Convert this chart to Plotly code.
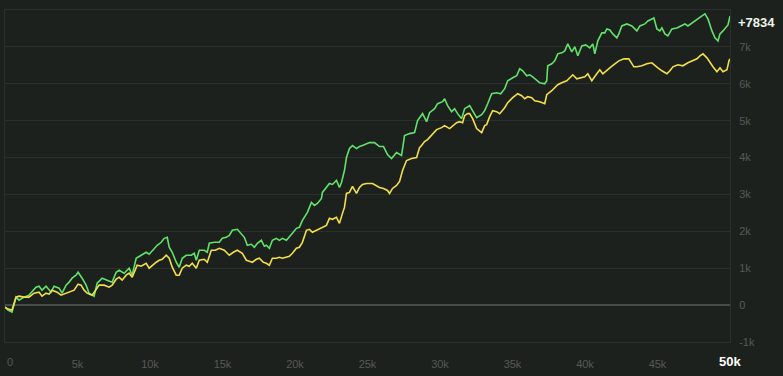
import plotly.graph_objects as go

# ---- data ----
green_x = [0, 207, 483, 760, 967, 1312, 1657, 1865, 2141, 2348, 2555, 2831, 3177, 3384, 3729, 3936,
           4213, 4420, 4627, 4903, 5041, 5318, 5594, 5801, 6146, 6354, 6699, 7044, 7389, 7666, 7873,
           8218, 8563, 8771, 9047, 9392, 9737, 9945, 10290, 10497, 10773, 10980, 11188, 11326, 11533,
           11809, 12016, 12224, 12500, 12845, 13052, 13190, 13398, 13743, 13950, 14088, 14434, 14779,
           14986, 15262, 15469, 15677, 16022, 16298, 16505, 16713, 16989, 17196, 17403, 17679, 17887,
           18025, 18232, 18439, 18715, 18922, 19130, 19406, 19613, 19820, 20096, 20304, 20511, 20718,
           20856, 21132, 21340, 21547, 21823, 21892, 22168, 22375, 22583, 22859, 23066, 23204, 23411,
           23549, 23757, 23964, 24240, 24447, 24654, 24931, 25138, 25483, 25828, 26105, 26381, 26657,
           26795, 27002, 27348, 27555, 27900, 28246, 28453, 28798, 29074, 29281, 29627, 29834, 30179,
           30317, 30525, 30801, 31008, 31215, 31491, 31698, 32044, 32251, 32527, 32873, 33080, 33287,
           33563, 33908, 34185, 34461, 34668, 35013, 35290, 35497, 35704, 35980, 36187, 36395, 36671,
           36878, 37223, 37361, 37431, 37707, 37914, 38121, 38397, 38605, 38812, 39088, 39295, 39502,
           39779, 40055, 40331, 40538, 40676, 40884, 41160, 41367, 41505, 41712, 41919, 42196, 42333,
           42540, 42886, 43231, 43577, 43784, 44129, 44336, 44612, 44750, 44958, 45165, 45303, 45510,
           45717, 45993, 46338, 46683, 46890, 47099, 47375, 47720, 48066, 48273, 48480, 48756, 48963,
           49170, 49308, 49515, 49722, 49860, 50000]
green_y = [-54, -135, -189, 216, 135, 216, 270, 351, 487, 514, 405, 514, 351, 514, 460, 324,
           541, 622, 730, 811, 892, 730, 541, 324, 243, 595, 730, 676, 622, 892, 946,
           865, 1000, 811, 1270, 1352, 1433, 1379, 1541, 1622, 1703, 1811, 1838, 1568, 1433,
           1162, 1027, 1270, 1352, 1352, 1406, 1216, 1487, 1487, 1433, 1676, 1703, 1703,
           1811, 1838, 1892, 2027, 2054, 1946, 1838, 1622, 1649, 1568, 1676, 1757, 1595,
           1622, 1541, 1757, 1811, 1757, 1811, 1757, 1838, 1946, 2081, 2108, 2298, 2433,
           2514, 2784, 2703, 2757, 2892, 3054, 3190, 3298, 3271, 3379, 3190, 3325, 3649,
           4000, 4244, 4325, 4244, 4298, 4325, 4379, 4406, 4406, 4298, 4298, 4082, 3973,
           4027, 4136, 4055, 4595, 4649, 4676, 5001, 5190, 4974, 5217, 5325, 5460, 5514,
           5595, 5406, 5244, 5325, 5190, 5055, 5325, 5406, 5271, 5082, 5163, 5271, 5460,
           5730, 5757, 5730, 5866, 6082, 6163, 6217, 6406, 6352, 6217, 6244, 6190, 6082,
           6028, 6001, 6082, 6487, 6541, 6622, 6812, 6839, 6893, 7082, 6866, 7001, 6758,
           7028, 7055, 6974, 7082, 6812, 7163, 7379, 7379, 7487, 7460, 7352, 7244, 7352,
           7568, 7622, 7568, 7433, 7568, 7622, 7704, 7758, 7785, 7487, 7433, 7514, 7352,
           7298, 7487, 7514, 7568, 7622, 7568, 7649, 7758, 7839, 7893, 7758, 7433, 7244,
           7163, 7352, 7433, 7514, 7595, 7834]

yellow_x = [0, 207, 483, 760, 967, 1312, 1657, 2003, 2348, 2555, 2831, 3039, 3246, 3591, 3867,
            4213, 4558, 4765, 5041, 5249, 5456, 5663, 6008, 6215, 6492, 6837, 7182, 7389, 7666,
            7873, 8080, 8356, 8563, 8771, 9116, 9392, 9737, 9945, 10152, 10428, 10635, 10842,
            11119, 11326, 11533, 11809, 12016, 12224, 12500, 12707, 12914, 13190, 13398, 13743,
            13950, 14226, 14503, 14779, 15124, 15469, 15746, 16022, 16367, 16643, 16851, 17058,
            17334, 17541, 17817, 18025, 18232, 18439, 18715, 18922, 19130, 19406, 19613, 19820,
            20096, 20304, 20511, 20787, 20994, 21201, 21477, 21685, 21961, 22168, 22375, 22583,
            22859, 23066, 23273, 23411, 23549, 23757, 23964, 24240, 24447, 24654, 24931, 25345,
            25828, 26105, 26381, 26519, 26726, 27002, 27210, 27417, 27693, 28038, 28384, 28591,
            28729, 28936, 29143, 29420, 29765, 30110, 30317, 30663, 30870, 31146, 31353, 31560,
            31698, 31905, 32044, 32251, 32527, 32734, 32873, 33080, 33218, 33425, 33632, 33908,
            34116, 34461, 34668, 35013, 35359, 35635, 35842, 36049, 36325, 36533, 36878, 37223,
            37361, 37707, 37914, 38121, 38397, 38743, 38950, 39157, 39433, 39640, 39986, 40193,
            40469, 40814, 41022, 41229, 41505, 41712, 42057, 42333, 42679, 43023, 43369, 43577,
            43922, 44267, 44612, 44819, 45027, 45303, 45648, 45855, 46062, 46407, 46752, 47099,
            47444, 47720, 47927, 48135, 48411, 48618, 48825, 49101, 49308, 49515, 49791, 49929,
            50000]
yellow_y = [-54, -108, -135, 216, 243, 216, 216, 324, 351, 243, 324, 297, 405, 351, 270,
            324, 378, 405, 568, 541, 405, 324, 270, 378, 541, 541, 487, 541, 703,
            757, 676, 811, 865, 757, 1081, 1054, 1135, 1000, 1081, 1162, 1216, 1243,
            1352, 1270, 1027, 811, 811, 1000, 1081, 1054, 1135, 1000, 1216, 1243,
            1162, 1487, 1487, 1541, 1487, 1352, 1433, 1487, 1406, 1216, 1189, 1162,
            1243, 1270, 1162, 1135, 1081, 1270, 1270, 1297, 1270, 1297, 1324, 1406,
            1541, 1568, 1703, 2027, 2054, 1973, 2027, 2054, 2108, 2162, 2352, 2325,
            2379, 2216, 2487, 2649, 3027, 3054, 3217, 3027, 3190, 3271, 3298, 3298,
            3190, 3163, 3108, 3027, 3163, 3244, 3352, 3649, 3919, 3973, 4000, 4271,
            4325, 4433, 4487, 4595, 4757, 4811, 4865, 4784, 4865, 4946, 4974, 4946,
            5136, 5190, 5190, 5055, 4784, 4730, 4676, 4865, 4892, 5109, 5271, 5244,
            5190, 5352, 5487, 5622, 5730, 5676, 5595, 5649, 5622, 5541, 5514, 5460,
            5703, 5811, 5893, 5974, 6028, 6082, 6163, 6244, 6136, 6163, 6190, 6271,
            6082, 6271, 6379, 6271, 6379, 6433, 6541, 6622, 6676, 6676, 6460, 6460,
            6487, 6541, 6568, 6487, 6433, 6352, 6271, 6352, 6460, 6514, 6487, 6568,
            6622, 6676, 6758, 6812, 6703, 6568, 6460, 6325, 6433, 6325, 6379, 6622,
            6676]

y_tick_vals = [-1000, 0, 1000, 2000, 3000, 4000, 5000, 6000, 7000]
y_tick_text = ["-1k", "0", "1k", "2k", "3k", "4k", "5k", "6k", "7k"]
x_tick_vals = [5000, 10000, 15000, 20000, 25000, 30000, 35000, 40000, 45000]
x_tick_text = ["5k", "10k", "15k", "20k", "25k", "30k", "35k", "40k", "45k"]
final_label = "+7834"
final_value = 7834
x_end_label = "50k"
x_start_label = "0"

# ---- styles ----
BG = "#1d211e"
GRID = "#2b302c"
ZERO = "#454b47"
TICK = "#555957"
GREEN = "#62e26c"
YELLOW = "#f3df4c"
FONT = "Liberation Sans, Arial, sans-serif"

fig = go.Figure()
fig.add_trace(go.Scatter(x=green_x, y=green_y, mode="lines",
                         line=dict(color=GREEN, width=1.6), hoverinfo="skip"))
fig.add_trace(go.Scatter(x=yellow_x, y=yellow_y, mode="lines",
                         line=dict(color=YELLOW, width=1.6), hoverinfo="skip"))

fig.update_layout(
    width=783, height=376,
    margin=dict(l=5, r=53, t=10, b=34),
    paper_bgcolor=BG, plot_bgcolor=BG,
    showlegend=False,
    hovermode=False,
    font=dict(family=FONT, size=11, color=TICK),
    xaxis=dict(range=[0, 50000], tickvals=x_tick_vals, ticktext=x_tick_text,
               showgrid=False, zeroline=False, showline=True, mirror=True,
               linecolor=GRID, linewidth=1, ticks="outside", ticklen=12,
               tickcolor="rgba(0,0,0,0)", tickfont=dict(size=11, color=TICK)),
    yaxis=dict(range=[-1000, 8000], side="right", tickvals=y_tick_vals, ticktext=y_tick_text,
               showgrid=True, gridcolor=GRID, gridwidth=1,
               zeroline=True, zerolinecolor=ZERO, zerolinewidth=1.5,
               showline=True, mirror=True, linecolor=GRID, linewidth=1,
               ticks="outside", ticklen=6, tickcolor="rgba(0,0,0,0)",
               tickfont=dict(size=11, color=TICK)),
    annotations=[
        dict(x=1, xref="paper", y=final_value, yref="y", text="<b>" + final_label + "</b>",
             showarrow=False, xanchor="left", yanchor="middle", xshift=6, yshift=-6,
             font=dict(size=13, color="#eef5e8", family=FONT)),
        dict(x=50000, xref="x", y=0, yref="paper", text="<b>" + x_end_label + "</b>",
             showarrow=False, xanchor="center", yanchor="middle", yshift=-19,
             font=dict(size=13, color="#ffffff", family=FONT)),
        dict(x=0, xref="x", y=0, yref="paper", text=x_start_label,
             showarrow=False, xanchor="left", yanchor="middle", yshift=-20, xshift=0,
             font=dict(size=11, color=TICK, family=FONT)),
    ],
)

fig.write_html("out.html",
               config={"displayModeBar": False, "staticPlot": True},
               post_script="document.body.style.margin='0';document.body.style.background='%s';" % BG)
